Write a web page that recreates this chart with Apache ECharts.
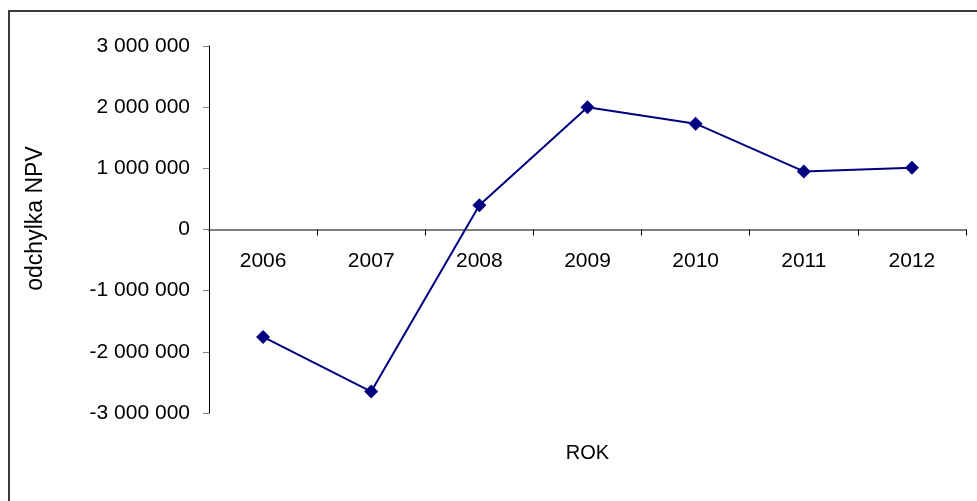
<!DOCTYPE html>
<html>
<head>
<meta charset="utf-8">
<script src="https://cdn.jsdelivr.net/npm/echarts@6/dist/echarts.min.js"></script>
<style>
html,body{margin:0;padding:0;background:#fff;}
#c{width:977px;height:501px;}
</style>
</head>
<body>
<div id="c"></div>
<script>
var years = ['2006','2007','2008','2009','2010','2011','2012'];
var npvDeviation = [-1757000, -2650000, 397000, 2000000, 1730000, 950000, 1010000];
var yMin = -3000000, yMax = 3000000, yStep = 1000000;
var xTitle = 'ROK';
var yTitle = 'odchylka NPV';

function fmt(v){
  var s = Math.abs(v).toString().replace(/\B(?=(\d{3})+(?!\d))/g, ' ');
  return (v < 0 ? '-' : '') + s;
}

var chart = echarts.init(document.getElementById('c'), null, {renderer:'canvas'});
var font = 'Liberation Sans, Arial, sans-serif';
chart.setOption({
  animation: false,
  backgroundColor: '#fff',
  grid: {left: 209, right: 11, top: 46, bottom: 88, containLabel: false, outerBoundsMode: 'none'},
  graphic: [{
    type: 'rect', silent: true,
    shape: {x: 9, y: 11, width: 1000, height: 520},
    style: {fill: 'none', stroke: '#3a3a3a', lineWidth: 2}
  }],
  xAxis: {
    type: 'category',
    data: years,
    boundaryGap: true,
    name: xTitle,
    nameLocation: 'middle',
    nameGap: 30,
    nameTextStyle: {fontFamily: font, fontSize: 20, color: '#000'},
    axisLine: {onZero: true, lineStyle: {color: '#808080', width: 2}},
    axisTick: {show: true, alignWithLabel: false, length: 6, lineStyle: {color: '#000', width: 1}},
    axisLabel: {fontFamily: font, fontSize: 21, color: '#000', margin: -162},
    splitLine: {show: false}
  },
  yAxis: {
    type: 'value',
    min: yMin, max: yMax, interval: yStep,
    name: yTitle,
    nameLocation: 'middle',
    nameRotate: 90,
    nameGap: 162,
    nameTextStyle: {fontFamily: font, fontSize: 23, color: '#000', padding: [0, 0, 0, 22]},
    axisLine: {show: true, onZero: false, lineStyle: {color: '#000', width: 1}},
    axisTick: {show: true, length: 6, lineStyle: {color: '#808080', width: 1}},
    axisLabel: {fontFamily: font, fontSize: 21, color: '#000', margin: 19, formatter: fmt},
    splitLine: {show: false}
  },
  series: [{
    type: 'line',
    data: npvDeviation,
    symbol: 'diamond',
    symbolSize: 14,
    lineStyle: {color: '#000080', width: 2},
    itemStyle: {color: '#000080'}
  }]
});
</script>
</body>
</html>
